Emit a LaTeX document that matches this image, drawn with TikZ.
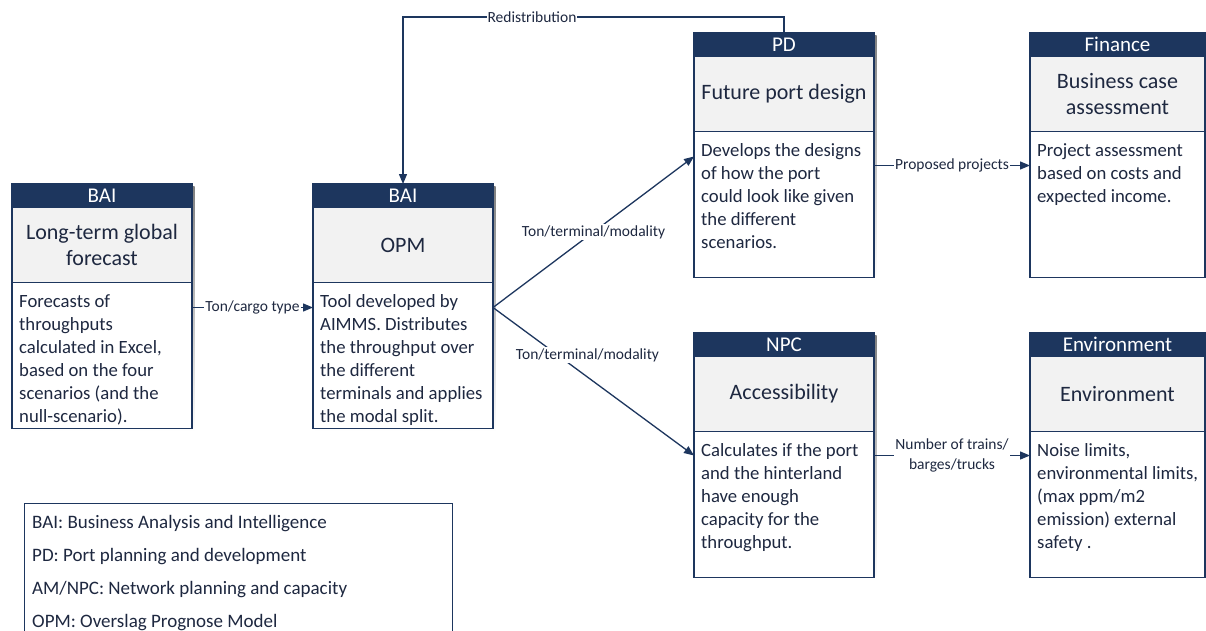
\documentclass[tikz,border=0pt]{standalone}
\usepackage{fontspec}
\setmainfont{Carlito}
\usetikzlibrary{arrows.meta,calc}
\definecolor{navy}{RGB}{29,54,94}
\definecolor{ink}{RGB}{30,40,64}
\definecolor{panel}{RGB}{242,242,242}
\definecolor{shade}{RGB}{222,226,232}

% One process box: #1 name, #2 left x, #3 top y, #4 department, #5 title, #6 description, #7 width
\newcommand\procbox[7]{%
  \fill[shade] (#2+2.5,#3+2.5) rectangle (#2+#7+2.5,#3+247);
  \node[hdr, minimum width=#7 pt] (#1-h) at (#2,#3) {#4};
  \node[ttl, minimum width=#7 pt] (#1-t) at (#1-h.south west) {#5};
  \node[bdy, minimum width=#7 pt] (#1-b) at (#1-t.south west) {};
  \node[txt] (#1-x) at ($(#1-b.north west)+(7,9)$) {\strut #6};
}

\begin{document}
\begin{tikzpicture}[x=1pt,y=-1pt,
  hdr/.style={draw=navy, line width=1.2pt, fill=navy, text=white, minimum height=23.5pt,
    inner sep=0pt, outer sep=0pt, anchor=north west, font=\fontsize{21}{24}\selectfont},
  ttl/.style={draw=navy, line width=1.2pt, fill=panel, text=ink, minimum height=75pt,
    inner sep=0pt, outer sep=0pt, anchor=north west, align=center,
    font=\fontsize{22}{26}\selectfont},
  bdy/.style={draw=navy, line width=1.2pt, fill=white, minimum height=146pt,
    inner sep=0pt, outer sep=0pt, anchor=north west},
  txt/.style={anchor=north west, align=left, inner sep=0pt, text=ink,
    font=\fontsize{18.7}{23}\selectfont},
  conn/.style={draw=navy, line width=1.3pt, -{Triangle[length=10pt,width=8pt]}},
  lbl/.style={fill=white, text=ink, inner sep=1pt, align=center,
    font=\fontsize{15.5}{19.5}\selectfont},
  legtxt/.style={anchor=base west, inner sep=0pt, text=ink, font=\fontsize{19}{23}\selectfont}
]
\useasboundingbox (0,0) rectangle (1206,630);
\fill[white] (0,0) rectangle (1206,630);

% process boxes
\procbox{fc}{12}{184}{BAI}{Long-term global\\forecast}
  {Forecasts of\\throughputs\\calculated in Excel,\\based on the four\\scenarios (and the\\null-scenario).}{180}
\procbox{opm}{313}{184}{BAI}{OPM}
  {Tool developed by\\AIMMS. Distributes\\the throughput over\\the different\\terminals and applies\\the modal split.}{180}
\procbox{pd}{694}{33}{PD}{Future port design}
  {Develops the designs\\of how the port\\could look like given\\the different\\scenarios.}{180}
\procbox{fin}{1030}{33}{Finance}{Business case\\assessment}
  {Project assessment\\based on costs and\\expected income.}{175}
\procbox{npc}{694}{333}{NPC}{Accessibility}
  {Calculates if the port\\and the hinterland\\have enough\\capacity for the\\throughput.}{180}
\procbox{env}{1030}{333}{Environment}{Environment}
  {Noise limits,\\environmental limits,\\(max ppm/m2\\emission) external\\safety .}{175}

% connector ports
\coordinate (fc-out)  at ($(fc-b.north east)+(0,25)$);
\coordinate (opm-in)  at ($(opm-b.north west)+(0,25)$);
\coordinate (opm-out) at ($(opm-b.north east)+(0,25)$);
\coordinate (pd-in)   at ($(pd-b.north west)+(0,25)$);
\coordinate (pd-out)  at ($(pd-b.north east)+(0,34)$);
\coordinate (fin-in)  at ($(fin-b.north west)+(0,34)$);
\coordinate (npc-in)  at ($(npc-b.north west)+(0,24)$);
\coordinate (npc-out) at ($(npc-b.north east)+(0,24)$);
\coordinate (env-in)  at ($(env-b.north west)+(0,24)$);
\coordinate (redist)  at (532,17);

% connectors
\draw[conn] (fc-out) -- node[lbl] {Ton/cargo type} (opm-in);
\draw[conn] (opm-out) -- node[lbl] {Ton/terminal/modality} (pd-in);
\draw[conn] (opm-out) -- node[lbl, pos=0.47, yshift=22pt] {Ton/terminal/modality} (npc-in);
\draw[conn] (pd-out) -- node[lbl] {Proposed projects} (fin-in);
\draw[conn] (npc-out) -- node[lbl] {Number of trains/\\barges/trucks} (env-in);
\draw[conn] (pd-h.north) |- (redist) node[lbl] {Redistribution} -| (opm-h.north);

% abbreviations
\node[draw=navy, line width=1pt, fill=white, anchor=north west, minimum width=428pt,
  minimum height=140pt, inner sep=0pt] (legend) at (24,503) {};
\node[legtxt] (leg1) at (32,528) {BAI: Business Analysis and Intelligence};
\node[legtxt] (leg2) at (32,561) {PD: Port planning and development};
\node[legtxt] (leg3) at (32,594) {AM/NPC: Network planning and capacity};
\node[legtxt] (leg4) at (32,627) {OPM: Overslag Prognose Model};
\end{tikzpicture}
\end{document}
